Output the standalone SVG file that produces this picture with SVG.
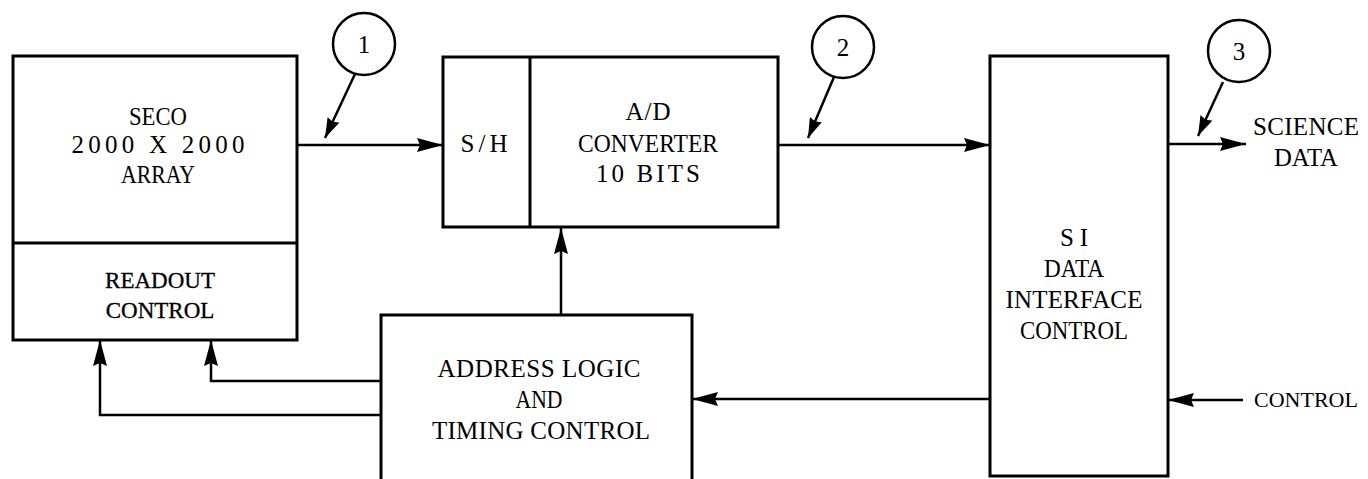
<svg xmlns="http://www.w3.org/2000/svg" width="1368" height="479" viewBox="0 0 1368 479">
<defs>
<style>
.box{fill:none;stroke:#000;stroke-width:3}
.ln{fill:none;stroke:#000;stroke-width:2.5}
.ld{fill:none;stroke:#000;stroke-width:2.5}
.t{font-family:"Liberation Serif","Times New Roman",serif;font-size:25px;fill:#000;text-anchor:middle}
.ts{font-family:"Liberation Serif","Times New Roman",serif;font-size:23px;fill:#000;text-anchor:middle;stroke:#000;stroke-width:0.3}
.c{fill:#fff;stroke:#000;stroke-width:2.5}
</style>
<marker id="ah" markerUnits="userSpaceOnUse" markerWidth="27" markerHeight="15" refX="26" refY="7.5" orient="auto">
<path d="M0,0.5 L26,7.5 L0,14.5 L3,7.5 z" fill="#000"/>
</marker>
<marker id="as" markerUnits="userSpaceOnUse" markerWidth="21" markerHeight="13" refX="20" refY="6.5" orient="auto">
<path d="M0,0 L20,6.5 L0,13 L2,6.5 z" fill="#000"/>
</marker>
</defs>
<rect width="1368" height="479" fill="#fff"/>

<g id="connectors">
<path class="ln" d="M297,145 H443" marker-end="url(#ah)"/>
<path class="ln" d="M778,145 H990" marker-end="url(#ah)"/>
<path class="ln" d="M1168,144 H1246" marker-end="url(#ah)"/>
<path class="ln" d="M561,315 V228" marker-end="url(#ah)"/>
<path class="ln" d="M990,399 H692" marker-end="url(#ah)"/>
<path class="ln" d="M1243,400 H1168" marker-end="url(#ah)"/>
<path class="ln" d="M381,381 H211 V340" marker-end="url(#ah)"/>
<path class="ln" d="M381,415 H100 V340" marker-end="url(#ah)"/>
<path class="ld" d="M355,74 L325,138" marker-end="url(#as)"/>
<path class="ld" d="M834,77 L808,138" marker-end="url(#as)"/>
<path class="ld" d="M1223,82 L1198,136" marker-end="url(#as)"/>
</g>

<g id="seco">
<rect class="box" x="13" y="56" width="284" height="284"/>
<line class="box" x1="13" y1="243" x2="297" y2="243"/>
<text class="t" x="158" y="125" textLength="58" lengthAdjust="spacingAndGlyphs">SECO</text>
<text class="t" x="158" y="153" textLength="173" lengthAdjust="spacing">2000 X 2000</text>
<text class="t" x="158" y="183" textLength="74" lengthAdjust="spacingAndGlyphs">ARRAY</text>
<text class="ts" x="160" y="288">READOUT</text>
<text class="ts" x="160" y="318">CONTROL</text>
</g>

<g id="adc">
<rect class="box" x="443" y="57" width="335" height="170"/>
<line class="box" x1="530" y1="57" x2="530" y2="227"/>
<text class="t" x="484" y="152" textLength="47" lengthAdjust="spacing">S/H</text>
<text class="t" x="648" y="120" textLength="45" lengthAdjust="spacing">A/D</text>
<text class="t" x="648" y="152" textLength="140" lengthAdjust="spacingAndGlyphs">CONVERTER</text>
<text class="t" x="648" y="182" textLength="104" lengthAdjust="spacing">10 BITS</text>
</g>

<g id="si">
<rect class="box" x="990" y="56" width="178" height="420"/>
<text class="t" x="1074" y="246" textLength="28" lengthAdjust="spacing">SI</text>
<text class="t" x="1074" y="277" textLength="60" lengthAdjust="spacingAndGlyphs">DATA</text>
<text class="t" x="1074" y="308" textLength="137" lengthAdjust="spacing">INTERFACE</text>
<text class="t" x="1074" y="339" textLength="108" lengthAdjust="spacingAndGlyphs">CONTROL</text>
</g>

<g id="address">
<path class="box" d="M381,482 V315 H692 V482"/>
<text class="t" x="539" y="377" textLength="203" lengthAdjust="spacing">ADDRESS LOGIC</text>
<text class="t" x="539" y="408" textLength="47" lengthAdjust="spacingAndGlyphs">AND</text>
<text class="t" x="541" y="439" textLength="218" lengthAdjust="spacing">TIMING CONTROL</text>
</g>

<g id="labels">
<text class="t" x="1306" y="135" textLength="106" lengthAdjust="spacing">SCIENCE</text>
<text class="t" x="1306" y="166" textLength="64" lengthAdjust="spacingAndGlyphs">DATA</text>
<text class="t" x="1306" y="407" style="font-size:22px">CONTROL</text>
</g>

<g id="marker1">
<circle class="c" cx="364" cy="44" r="31"/>
<text class="t" x="364" y="53">1</text>
</g>
<g id="marker2">
<circle class="c" cx="843" cy="47" r="31"/>
<text class="t" x="843" y="56">2</text>
</g>
<g id="marker3">
<circle class="c" cx="1239" cy="51" r="31"/>
<text class="t" x="1239" y="60">3</text>
</g>
</svg>
